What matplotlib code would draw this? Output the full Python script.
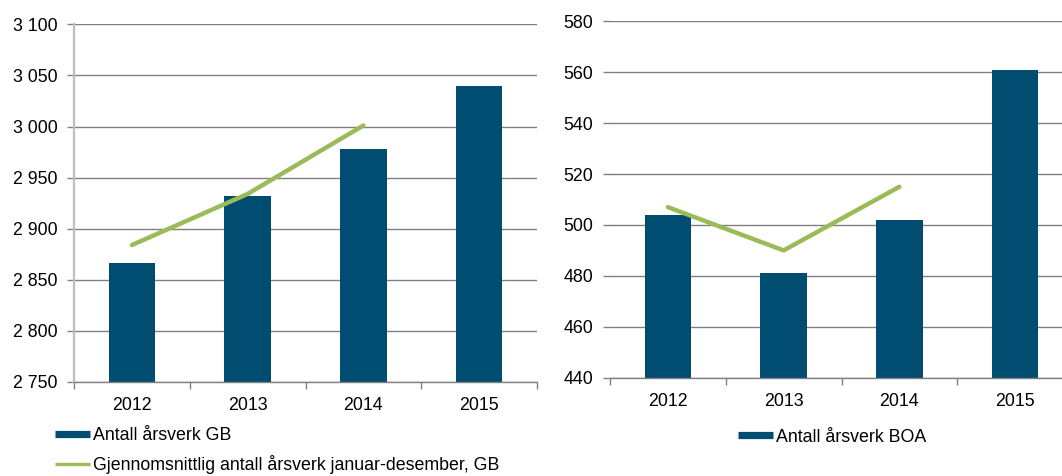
import matplotlib
matplotlib.use("Agg")
import matplotlib.pyplot as plt
from matplotlib.lines import Line2D
from matplotlib.ticker import FixedLocator, FuncFormatter

years = ["2012", "2013", "2014", "2015"]
gb_bars = [2866, 2932, 2978, 3040]
gb_line = [2884, 2934, 3001]
boa_bars = [504, 481, 502, 561]
boa_line = [507, 490, 515]
gb_yticks = [2750, 2800, 2850, 2900, 2950, 3000, 3050, 3100]
boa_yticks = [440, 460, 480, 500, 520, 540, 560, 580]
label_gb_bar = "Antall årsverk GB"
label_gb_line = "Gjennomsnittlig antall årsverk januar-desember, GB"
label_boa_bar = "Antall årsverk BOA"

BAR = "#004D71"
GREEN = "#9BBB59"
GRID = "#808080"
FS = 12.8

plt.rcParams["font.family"] = ["Liberation Sans", "DejaVu Sans"]

W, H = 1062, 476
fig = plt.figure(figsize=(W / 100, H / 100), dpi=100)


def px_axes(x0, y0, x1, y1):
    return fig.add_axes([x0 / W, 1 - y1 / H, (x1 - x0) / W, (y1 - y0) / H])


def style(ax, bars, line, yticks, show_yspine):
    x = list(range(len(bars)))
    ax.bar(x, bars, width=0.4, color=BAR, zorder=2)
    ax.plot(list(range(len(line))), line, color=GREEN, lw=3.2, zorder=3,
            solid_capstyle="round")
    ax.set_xlim(-0.5, len(bars) - 0.5)
    ax.set_ylim(yticks[0], yticks[-1])
    ax.yaxis.set_major_locator(FixedLocator(yticks))
    ax.yaxis.set_major_formatter(
        FuncFormatter(lambda v, p: f"{int(v):,}".replace(",", " ")))
    ax.grid(axis="y", color=GRID, lw=1.0, zorder=1)
    ax.set_axisbelow(True)
    for s in ["top", "right"]:
        ax.spines[s].set_visible(False)
    ax.spines["left"].set_visible(show_yspine)
    ax.spines["left"].set_color("#BFBFBF")
    ax.spines["left"].set_linewidth(1.6)
    ax.spines["bottom"].set_color(GRID)
    ax.spines["bottom"].set_linewidth(1.0)
    ax.tick_params(axis="y", length=5, width=1, color=GRID, pad=7,
                   labelsize=FS, labelcolor="black")
    ax.set_xticks([i - 0.5 for i in range(len(bars) + 1)])
    ax.set_xticklabels([])
    ax.set_xticks(x, minor=True)
    ax.set_xticklabels(years, minor=True)
    ax.tick_params(axis="x", which="major", length=5, width=1, color=GRID,
                   direction="out")
    ax.tick_params(axis="x", which="minor", length=0, pad=11, labelsize=FS,
                   labelcolor="black")


ax1 = px_axes(74, 24.3, 537, 382)
style(ax1, gb_bars, gb_line, gb_yticks, True)
ax2 = px_axes(610, 21.3, 1073, 377.7)
style(ax2, boa_bars, boa_line, boa_yticks, False)

h_bar = Line2D([0], [0], color=BAR, lw=5.2, solid_capstyle="butt")
h_line = Line2D([0], [0], color=GREEN, lw=2.4, solid_capstyle="butt")

fig.legend([h_bar, h_line], [label_gb_bar, label_gb_line],
           loc="center left", bbox_to_anchor=(55 / W, 1 - 450.5 / H),
           frameon=False, fontsize=FS, handlelength=1.95, handletextpad=0.2,
           labelspacing=0.62, borderpad=0, borderaxespad=0)
fig.legend([h_bar], [label_boa_bar],
           loc="center left", bbox_to_anchor=(738 / W, 1 - 437 / H),
           frameon=False, fontsize=FS, handlelength=1.95, handletextpad=0.2,
           borderpad=0, borderaxespad=0)

fig.savefig("out.png", dpi=100)
